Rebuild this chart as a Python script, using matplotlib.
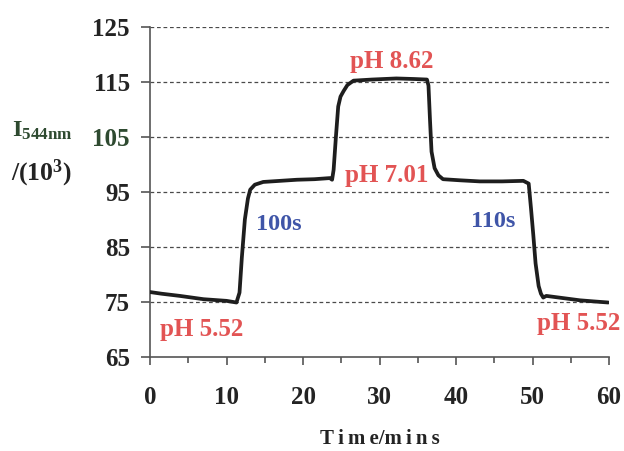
import matplotlib
matplotlib.use("Agg")
import matplotlib.pyplot as plt
import numpy as np

# Fluorescence intensity trace at 544 nm while the pH is stepped
time_min = [0.0, 1.5, 3.9, 7.0, 10.0, 11.3, 11.7, 12.0, 12.4, 12.8, 13.1, 13.7, 14.8,
            17.0, 19.2, 21.5, 23.5, 23.8, 24.0, 24.3, 24.6, 24.9, 25.3, 25.8, 26.6,
            29.0, 32.2, 34.5, 36.2, 36.4, 36.6, 36.8, 37.2, 37.7, 38.3, 40.5, 43.1,
            46.0, 48.8, 49.5, 49.8, 50.1, 50.4, 50.8, 51.1, 51.4, 51.8, 54.0, 56.2,
            58.0, 59.9]
intensity = [76.8, 76.5, 76.1, 75.5, 75.2, 74.9, 76.7, 83.0, 90.0, 93.8, 95.4, 96.3, 96.8,
             97.0, 97.2, 97.3, 97.5, 97.2, 99.0, 105.0, 110.5, 112.3, 113.3, 114.4, 115.2,
             115.4, 115.6, 115.5, 115.4, 114.3, 108.0, 102.3, 99.3, 98.0, 97.3, 97.1, 96.9,
             96.9, 97.0, 96.5, 92.0, 87.2, 82.0, 77.9, 76.5, 75.8, 76.1, 75.7, 75.3,
             75.1, 74.9]

x_ticks = [0, 10, 20, 30, 40, 50, 60]
y_ticks = [65, 75, 85, 95, 105, 115, 125]

# Annotations: (text, x, y)
ph_labels = [("pH 5.52", 6.7, 70.0), ("pH 7.01", 30.9, 97.9),
             ("pH 8.62", 31.6, 118.7), ("pH 5.52", 56.0, 71.0)]
time_labels = [("100s", 16.8, 89.1), ("110s", 44.9, 89.7)]

RED = "#e25454"
BLUE = "#3f55a8"
INK = "#232323"
GREEN_INK = "#2e4a30"
SERIF = ["Liberation Serif", "DejaVu Serif"]

plt.rcParams["font.family"] = SERIF
plt.rcParams["font.weight"] = "bold"
plt.rcParams["mathtext.fontset"] = "custom"
plt.rcParams["mathtext.rm"] = "Liberation Serif:bold"
plt.rcParams["mathtext.it"] = "Liberation Serif:bold"
plt.rcParams["mathtext.bf"] = "Liberation Serif:bold"

fig = plt.figure(figsize=(6.24, 4.51), dpi=100)
ax = fig.add_axes([0.2404, 0.2084, 0.7356, 0.7324])

ax.plot(time_min, intensity, color="#1e1e1e", lw=2.7, solid_joinstyle="round",
        solid_capstyle="round", zorder=3)

ax.set_xlim(0, 60)
ax.set_ylim(65, 125)

# dashed horizontal reference lines
for yv in y_ticks[1:]:
    ax.axhline(yv, color="#4a4a4a", lw=0.9, ls=(0, (3.0, 2.2)), zorder=1)

for side in ("top", "right"):
    ax.spines[side].set_visible(False)
for side in ("left", "bottom"):
    ax.spines[side].set_color("#555555")
    ax.spines[side].set_linewidth(1.2)

ax.set_xticks(x_ticks)
ax.set_xticks(np.arange(5, 60, 10), minor=True)
ax.set_yticks(y_ticks)
ax.tick_params(axis="x", which="major", direction="out", length=6, width=1.2,
               color="#555555", pad=15)
ax.tick_params(axis="x", which="minor", direction="out", length=4.5, width=1.2,
               color="#555555")
ax.tick_params(axis="y", direction="out", length=6.5, width=1.2, color="#555555", pad=8)

ax.set_xticklabels([str(v) for v in x_ticks], fontweight="bold", fontsize=18, color=INK)
ax.set_yticklabels([str(v) for v in y_ticks], fontweight="bold", fontsize=18, color=INK)
for lbl in ax.get_yticklabels():
    if lbl.get_text() == "105":
        lbl.set_color(GREEN_INK)

ax.set_xlabel("T\u2009i\u2009m\u2009e/m\u2009i\u2009n\u2009s", fontweight="bold",
              fontsize=15, color=INK, labelpad=14)

for txt, xv, yv in ph_labels:
    ax.text(xv, yv, txt, color=RED, fontweight="bold",
            fontsize=18, ha="center", va="center", zorder=4)
for txt, xv, yv in time_labels:
    ax.text(xv, yv, txt, color=BLUE, fontweight="bold",
            fontsize=17.5, ha="center", va="center", zorder=4)

# y-axis caption: I with subscript, then /(10^3) on the line below
W, H = 624.0, 451.0
fig.text(12 / W, 1 - 137 / H, r"I$_{\mathrm{544nm}}$", fontsize=17.5, color=GREEN_INK,
         ha="left", va="baseline")
fig.text(11 / W, 1 - 180 / H, r"/(10$^{\mathrm{3}}$)", fontsize=18.5, color=INK,
         ha="left", va="baseline")

fig.savefig("out.png", dpi=100)
